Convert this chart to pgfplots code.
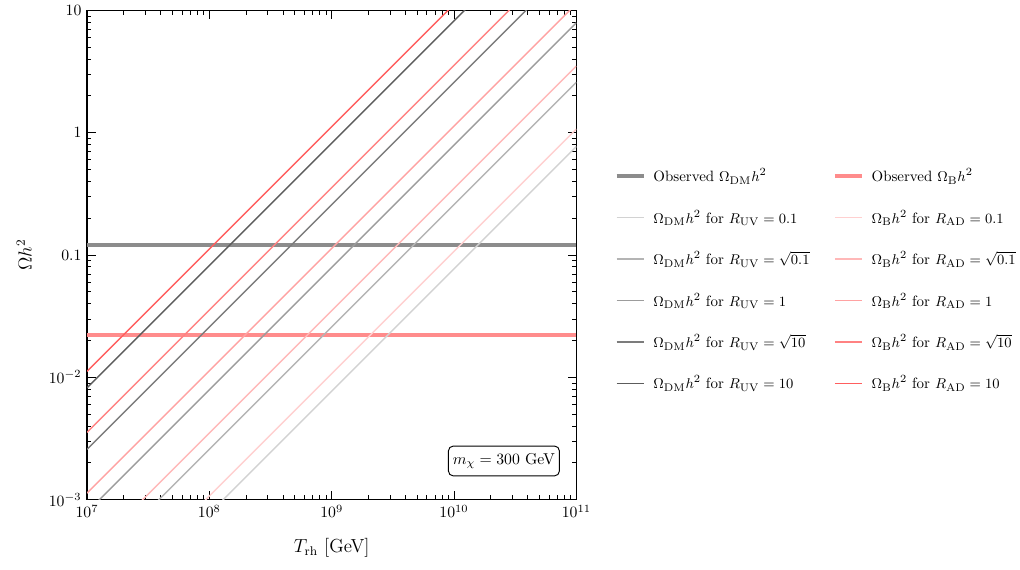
\documentclass[border=0pt]{standalone}
\usepackage{pgfplots}
\pgfplotsset{compat=1.18}

\definecolor{obsdm}{HTML}{8C8C8C}
\definecolor{obsbar}{HTML}{FF8C8C}
\definecolor{dmone}{HTML}{D2D2D2}
\definecolor{dmtwo}{HTML}{B4B4B4}
\definecolor{dmthree}{HTML}{9C9C9C}
\definecolor{dmfour}{HTML}{7C7C7C}
\definecolor{dmfive}{HTML}{5C5C5C}
\definecolor{barone}{HTML}{FFD0D0}
\definecolor{bartwo}{HTML}{FFB8B8}
\definecolor{barthree}{HTML}{FFA2A2}
\definecolor{barfour}{HTML}{FF8282}
\definecolor{barfive}{HTML}{FF5E5E}

\begin{document}
\begin{tikzpicture}
\begin{axis}[
  scale only axis,
  width=311pt, height=311pt,
  xmode=log, ymode=log,
  xmin=1e7, xmax=1e11,
  ymin=1e-3, ymax=10,
  xtick={1e7,1e8,1e9,1e10,1e11},
  ytick={1e-3,1e-2,0.1,1,10},
  yticklabels={$10^{-3}$,$10^{-2}$,$0.1$,$1$,$10$},
  tick align=inside,
  tick pos=both,
  major tick length=5.5pt,
  minor tick length=2.8pt,
  tick style={black, line width=0.5pt},
  axis line style={black, line width=0.7pt},
  xlabel={\large $T_{\mathrm{rh}}$ [GeV]},
  ylabel={\large $\Omega h^2$},
  xlabel style={yshift=-6pt},
  ylabel style={yshift=4pt},
  legend columns=2,
  legend cell align=left,
  legend style={
    at={(1.0777,0.449)}, anchor=west,
    draw=none, fill=none, inner xsep=0pt,
    font=\fontsize{9.5pt}{11pt}\selectfont,
    row sep=12.5pt,
    /tikz/every odd column/.append style={column sep=3pt},
    /tikz/every even column/.append style={column sep=12.8pt},
  },
]
% observed relic abundances
\addplot[color=obsdm, line width=2.6pt] coordinates {(1e7,0.12) (1e11,0.12)};
\addlegendentry{Observed $\Omega_{\mathrm{DM}}h^2$}
\addplot[color=obsbar, line width=2.6pt] coordinates {(1e7,0.022) (1e11,0.022)};
\addlegendentry{Observed $\Omega_{\mathrm{B}}h^2$}

% R = 0.1
\addplot[color=dmone, line width=0.9pt] coordinates {(1e7,7.7e-5) (1e11,0.77)};
\addlegendentry{$\Omega_{\mathrm{DM}}h^2$ for $R_{\mathrm{UV}}=0.1$}
\addplot[color=barone, line width=0.9pt] coordinates {(1e7,1.07e-4) (1e11,1.07)};
\addlegendentry{$\Omega_{\mathrm{B}}h^2$ for $R_{\mathrm{AD}}=0.1$}

% R = sqrt(0.1)
\addplot[color=dmtwo, line width=0.9pt] coordinates {(1e7,2.58e-4) (1e11,2.58)};
\addlegendentry{$\Omega_{\mathrm{DM}}h^2$ for $R_{\mathrm{UV}}=\sqrt{0.1}$}
\addplot[color=bartwo, line width=0.9pt] coordinates {(1e7,3.5e-4) (1e11,3.5)};
\addlegendentry{$\Omega_{\mathrm{B}}h^2$ for $R_{\mathrm{AD}}=\sqrt{0.1}$}

% R = 1
\addplot[color=dmthree, line width=0.9pt] coordinates {(1e7,7.9e-4) (1e11,7.9)};
\addlegendentry{$\Omega_{\mathrm{DM}}h^2$ for $R_{\mathrm{UV}}=1$}
\addplot[color=barthree, line width=0.9pt] coordinates {(1e7,1.13e-3) (1e11,11.3)};
\addlegendentry{$\Omega_{\mathrm{B}}h^2$ for $R_{\mathrm{AD}}=1$}

% R = sqrt(10)
\addplot[color=dmfour, line width=0.9pt] coordinates {(1e7,2.58e-3) (1e11,25.8)};
\addlegendentry{$\Omega_{\mathrm{DM}}h^2$ for $R_{\mathrm{UV}}=\sqrt{10}$}
\addplot[color=barfour, line width=0.9pt] coordinates {(1e7,3.55e-3) (1e11,35.5)};
\addlegendentry{$\Omega_{\mathrm{B}}h^2$ for $R_{\mathrm{AD}}=\sqrt{10}$}

% R = 10
\addplot[color=dmfive, line width=0.9pt] coordinates {(1e7,8.2e-3) (1e11,82)};
\addlegendentry{$\Omega_{\mathrm{DM}}h^2$ for $R_{\mathrm{UV}}=10$}
\addplot[color=barfive, line width=0.9pt] coordinates {(1e7,1.12e-2) (1e11,112)};
\addlegendentry{$\Omega_{\mathrm{B}}h^2$ for $R_{\mathrm{AD}}=10$}

\node[draw=black, rounded corners=3pt, fill=white, inner xsep=2.8pt, inner ysep=4.5pt, line width=0.6pt]
  at (rel axis cs:0.852,0.079) {$m_\chi = 300$ GeV};
\end{axis}
% whitespace as in the reference
\path (current axis.south west) ++(-55.3pt,-44.5pt);
\path (current axis.north east) ++(282pt,6.4pt);
\end{tikzpicture}
\end{document}
